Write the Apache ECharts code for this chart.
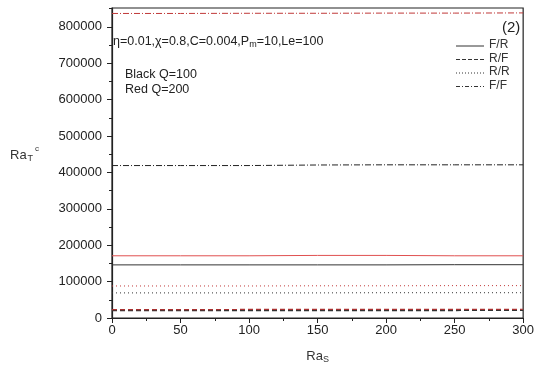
<!DOCTYPE html>
<html><head><meta charset="utf-8">
<script src="https://cdn.jsdelivr.net/npm/echarts@6/dist/echarts.min.js"></script>
<style>html,body{margin:0;padding:0;background:#fff}#c{width:537px;height:369px}</style>
</head><body><div id="c"></div>
<script>
const xs = [0, 50, 100, 150, 200, 250, 300];
const blackFR = [146000, 146000, 146000, 146000, 146000, 146500, 146500];
const blackRF = [20000, 20000, 20500, 20500, 20500, 20500, 21000];
const blackRR = [69000, 69000, 69000, 69000, 69500, 69500, 69500];
const blackFF = [419000, 419000, 419000, 420500, 421000, 421000, 421000];
const redFR = [171000, 171000, 171000, 172000, 172000, 171000, 171000];
const redRF = [23000, 23000, 23500, 23500, 23500, 23500, 24000];
const redRR = [88000, 88000, 88000, 88500, 88500, 89000, 89000];
const redFF = [837000, 837000, 837500, 837500, 838000, 838000, 838500];
const xTicks = [0, 50, 100, 150, 200, 250, 300];
const yTicks = [0, 100000, 200000, 300000, 400000, 500000, 600000, 700000, 800000];
const legendNames = ['F/R', 'R/F', 'R/R', 'F/F'];

const font = 'Liberation Sans, Arial, sans-serif';
function pts(v){ return xs.map((x,i)=>[x, v[i]]); }
function ser(name, v, color, type, width){
  return {name, type:'line', data: pts(v), symbol:'none', silent:true,
    lineStyle:{color, type, width: width||1}, itemStyle:{color}};
}
const dashDot = [6,2,1,2];
const legendDash = [null, [4,2], [1,2], [4,2,1,2]];
const legendGraphics = [];
legendNames.forEach((n, i) => {
  const y = 46 + i * 13.5;
  legendGraphics.push({type:'line', shape:{x1:456, y1:y, x2:484, y2:y},
    style:{stroke:'#333', lineWidth:1, lineDash: legendDash[i]}});
  legendGraphics.push({type:'text', left:489, top:y-7, style:{text:n, fontSize:12, fontFamily:font, fill:'#333'}});
});
const chart = echarts.init(document.getElementById('c'));
chart.setOption({
  animation:false,
  grid:{left:112, right:11, top:8, bottom:50, show:true, borderColor:'#222', borderWidth:1.2},
  xAxis:{type:'value', min:0, max:300, interval:50,
    axisLine:{lineStyle:{color:'#222', width:1.2}},
    axisTick:{inside:false, length:5, lineStyle:{color:'#222'}},
    minorTick:{show:true, splitNumber:2, length:3, lineStyle:{color:'#222'}},
    splitLine:{show:false},
    axisLabel:{color:'#222', fontSize:13, fontFamily:font, margin:6, customValues: xTicks},
    name:'{a|Ra}{s|S}', nameLocation:'middle', nameGap:30,
    nameTextStyle:{rich:{a:{fontSize:13, fontFamily:font, color:'#333'}, s:{fontSize:9, fontFamily:font, color:'#333', padding:[7,0,0,0]}}}
  },
  yAxis:{type:'value', min:0, max:852000, interval:100000,
    axisLine:{lineStyle:{color:'#222', width:1.2}},
    axisTick:{inside:false, length:5, lineStyle:{color:'#222'}, customValues: yTicks},
    minorTick:{show:true, splitNumber:2, length:3, lineStyle:{color:'#222'}},
    splitLine:{show:false},
    axisLabel:{color:'#222', fontSize:13, fontFamily:font, margin:10, customValues: yTicks, formatter: v => String(v)}
  },
  graphic:[
    {type:'text', left:113, top:35, style:{rich:{a:{fontSize:12.5, fontFamily:font, fill:'#222'}, s:{fontSize:9, fontFamily:font, fill:'#222', padding:[7,0,0,0]}},
      text:'{a|η=0.01,χ=0.8,C=0.004,P}{s|m}{a|=10,Le=100}'}},
    {type:'text', left:125, top:68, style:{text:'Black Q=100', fontSize:12.5, fontFamily:font, fill:'#222'}},
    {type:'text', left:125, top:83, style:{text:'Red Q=200', fontSize:12.5, fontFamily:font, fill:'#222'}},
    {type:'text', left:502, top:20, style:{text:'(2)', fontSize:15, fontFamily:font, fill:'#222'}},
    {type:'text', left:10, top:145, style:{rich:{a:{fontSize:13, fontFamily:font, fill:'#333'}, s:{fontSize:9, fontFamily:font, fill:'#333', padding:[8,0,0,1]}, p:{fontSize:8, fontFamily:font, fill:'#333', padding:[0,0,12,2]}},
      text:'{a|Ra}{s|T}{p|c}'}},
    ...legendGraphics
  ],
  series:[
    ser('F/R', blackFR, '#333', 'solid'),
    ser('R/F', blackRF, '#333', [5,3], 1.2),
    ser('R/R', blackRR, '#333', [1,3]),
    ser('F/F', blackFF, '#222', dashDot),
    ser('F/R red', redFR, '#e05050', 'solid'),
    ser('R/F red', redRF, '#a83030', [5,3], 1.2),
    ser('R/R red', redRR, '#c03838', [1,3]),
    ser('F/F red', redFF, '#c03838', dashDot)
  ]
});
</script></body></html>
